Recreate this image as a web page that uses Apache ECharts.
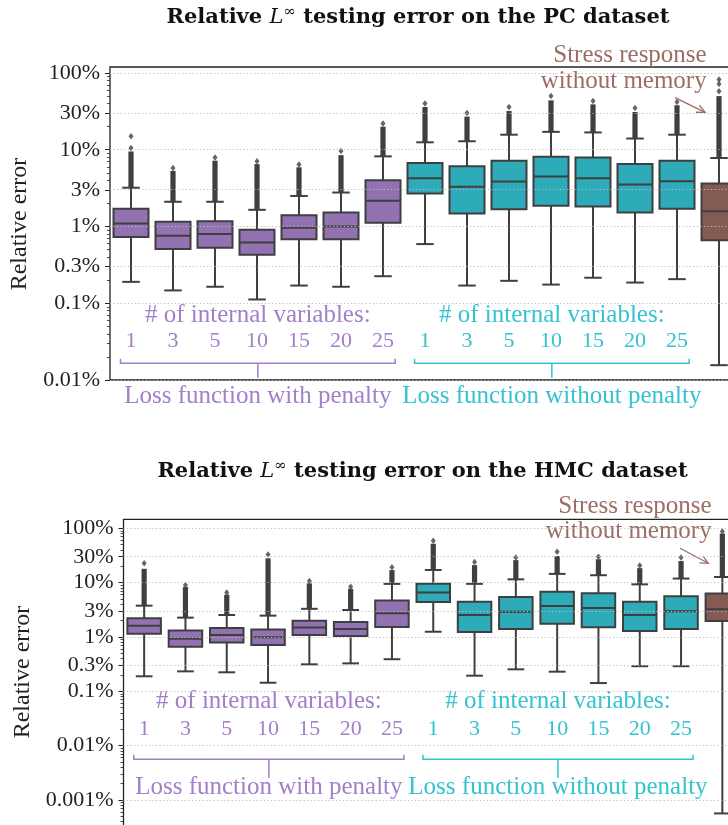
<!DOCTYPE html>
<html>
<head>
<meta charset="utf-8">
<script src="https://cdn.jsdelivr.net/npm/echarts@6/dist/echarts.min.js"></script>
<style>html,body{margin:0;padding:0;background:#fff}#c{width:728px;height:825px}</style>
</head>
<body>
<div id="c"></div>
<script>
// ---------------- DATA ----------------
const categories = ['1','3','5','10','15','20','25','1','3','5','10','15','20','25','no memory'];
const groupOf = ['penalty','penalty','penalty','penalty','penalty','penalty','penalty',
                 'plain','plain','plain','plain','plain','plain','plain','memoryless'];
const groupNames = { penalty: 'Loss function with penalty', plain: 'Loss function without penalty' };
const groupHeader = '# of internal variables:';
const memorylessNote = ['Stress response', 'without memory'];
const datasetNames = ['PC', 'HMC'];

// relative error in %: [lower whisker, Q1, median, Q3, upper whisker]
const pcStats = [
  [0.19, 0.73, 1.09, 1.70, 3.2],
  [0.147, 0.51, 0.76, 1.15, 2.1],
  [0.164, 0.53, 0.80, 1.17, 2.1],
  [0.112, 0.43, 0.62, 0.91, 1.65],
  [0.17, 0.68, 0.96, 1.40, 2.5],
  [0.164, 0.68, 1.00, 1.52, 2.77],
  [0.225, 1.12, 2.16, 4.0, 8.2],
  [0.59, 2.69, 4.26, 6.7, 12.5],
  [0.17, 1.48, 3.3, 6.1, 12.9],
  [0.196, 1.68, 3.86, 7.2, 15.7],
  [0.175, 1.86, 4.48, 8.1, 17.1],
  [0.215, 1.82, 4.26, 7.9, 16.8],
  [0.186, 1.52, 3.53, 6.5, 14.0],
  [0.206, 1.70, 3.89, 7.2, 15.7],
  [0.0156, 0.66, 1.58, 3.63, 7.8]
];
// top of the dense run of outliers above the upper whisker (%)
const pcOutlierRunTop = [9.5, 5.3, 7.2, 6.5, 5.9, 8.5, 20, 36, 27, 32, 44, 39, 31, 38, 50];
// isolated outliers (%)
const pcOutlierPoints = [[10.5, 15], [5.8], [7.9], [7.1], [6.4], [9.6], [22], [40], [30], [36], [50], [43], [35], [42], [58, 72, 82]];

const hmcStats = [
  [0.189, 1.15, 1.61, 2.21, 3.77],
  [0.233, 0.66, 0.93, 1.31, 2.27],
  [0.224, 0.79, 1.09, 1.47, 2.54],
  [0.144, 0.71, 0.99, 1.38, 2.47],
  [0.314, 1.09, 1.49, 2.00, 3.3],
  [0.327, 1.04, 1.40, 1.89, 3.14],
  [0.39, 1.53, 2.73, 4.67, 9.5],
  [1.25, 4.4, 6.6, 9.5, 17.1],
  [0.194, 1.24, 2.54, 4.47, 9.5],
  [0.254, 1.40, 2.92, 5.45, 11.5],
  [0.23, 1.76, 3.72, 6.8, 14.5],
  [0.142, 1.51, 3.42, 6.4, 13.7],
  [0.29, 1.29, 2.54, 4.47, 9.3],
  [0.29, 1.40, 2.97, 5.6, 11.9],
  [0.000566, 1.97, 3.24, 6.3, 12.7]
];
const hmcOutlierRunTop = [18, 8.3, 6.0, 28, 9.7, 7.7, 17, 52, 21, 26, 31, 27, 18.5, 25, 80];
const hmcOutlierPoints = [[22.8], [9.1], [6.6], [33], [10.7], [8.4], [19.2], [59], [24], [28.9], [37], [30], [20.6], [28.9], [87]];

const pcTicks = [0.01, 0.1, 0.3, 1, 3, 10, 30, 100];
const hmcTicks = [0.001, 0.01, 0.1, 0.3, 1, 3, 10, 30, 100];

// ---------------- STYLE / LAYOUT ----------------
const FONT = 'Liberation Serif';
const EDGE = '#3f3f3f';
const COLORS = {
  penalty:    { box: '#9372b2', text: '#a27fcb' },
  plain:      { box: '#2eabb8', text: '#35c2d1' },
  memoryless: { box: '#845b53', text: '#9c6d64' }
};
const PANELS = [
  { stats: pcStats, run: pcOutlierRunTop, pts: pcOutlierPoints, ticks: pcTicks, name: datasetNames[0],
    grid: { left: 110, top: 67, width: 630, height: 313 }, yMin: -2, yMax: 2.078, boxW: 35,
    titleX: 418, titleY: 18, ylabel: [20, 224], headerY: 315, bracketY: 363.3, tickDown: 14.4, lossY: 396, numMargin: 28,
    stress: { x: 706.7, y1: 55, y2: 81, a0: [675, 97.7], a1: [705, 112.3] } },
  { stats: hmcStats, run: hmcOutlierRunTop, pts: hmcOutlierPoints, ticks: hmcTicks, name: datasetNames[1],
    grid: { left: 123.5, top: 519.3, width: 619.5, height: 313.3 }, yMin: -3.6, yMax: 2.166, boxW: 33.5,
    titleX: 422.5, titleY: 471.7, ylabel: [23, 672], headerY: 701.7, bracketY: 759.3, tickDown: 18.7, lossY: 787.3, numMargin: 92,
    stress: { x: 711.7, y1: 506.7, y2: 531.7, a0: [680, 548.3], a1: [708.3, 563.3] } }
];

const lg = Math.log10;

function minorTicks(ticks, lo, hi) {
  const out = [];
  for (let n = -6; n <= 3; n++) {
    for (let k = 1; k <= 9; k++) {
      const v = k * Math.pow(10, n);
      const l = lg(v);
      if (l < lo - 1e-9 || l > hi + 1e-9) continue;
      if (ticks.some(t => Math.abs(lg(t) - l) < 1e-6)) continue;
      out.push(l);
    }
  }
  return out;
}

const chart = echarts.init(document.getElementById('c'), null, { renderer: 'canvas' });

const grids = [], xAxes = [], yAxes = [], series = [];

PANELS.forEach((P, k) => {
  grids.push(Object.assign({ show: true, borderColor: '#222', borderWidth: 1.3, backgroundColor: 'transparent',
    containLabel: false, outerBoundsMode: 'none' }, P.grid));
  xAxes.push({
    type: 'category', gridIndex: k, data: categories, boundaryGap: true,
    axisLine: { show: false }, axisTick: { show: false }, splitLine: { show: false },
    axisLabel: {
      show: true, inside: true, margin: P.numMargin, interval: 0,
      fontFamily: FONT, fontSize: 22,
      color: (val, idx) => COLORS[groupOf[idx]].text,
      formatter: (val, idx) => (groupOf[idx] === 'memoryless' ? '' : val)
    }
  });
  const majors = P.ticks.map(lg);
  yAxes.push({
    type: 'value', gridIndex: k, position: 'left', min: P.yMin, max: P.yMax,
    axisLine: { show: false }, splitLine: { show: false },
    axisTick: { show: true, length: 5, customValues: majors, lineStyle: { color: '#222', width: 1 } },
    axisLabel: {
      show: true, customValues: majors, margin: 10, fontFamily: FONT, fontSize: 22, color: '#222',
      formatter: (v) => {
        const t = P.ticks.find(t => Math.abs(lg(t) - v) < 1e-6);
        return t === undefined ? '' : String(t) + '%';
      }
    }
  });
  yAxes.push({
    type: 'value', gridIndex: k, position: 'left', min: P.yMin, max: P.yMax,
    axisLine: { show: false }, splitLine: { show: false },
    axisTick: { show: true, length: 3, customValues: minorTicks(P.ticks, P.yMin, P.yMax), lineStyle: { color: '#222', width: 0.8 } },
    axisLabel: { show: false }
  });

  const boxData = P.stats.map((s, i) => [i, lg(s[0]), lg(s[1]), lg(s[2]), lg(s[3]), lg(s[4]), lg(P.run[i])]);
  const boxW = P.boxW;
  series.push({
    type: 'custom', xAxisIndex: k, yAxisIndex: 2 * k, z: 2,
    encode: { x: 0, y: [1, 2, 3, 4, 5, 6] },
    data: boxData,
    renderItem: (params, api) => {
      const i = api.value(0);
      const ys = [1, 2, 3, 4, 5, 6].map(d => api.coord([i, api.value(d)])[1]);
      const cx = api.coord([i, api.value(3)])[0];
      const [yLow, yQ1, yMed, yQ3, yHigh, yRun] = ys;
      const fill = COLORS[groupOf[i]].box;
      const lw = 2;
      const cap = boxW / 4;
      return {
        type: 'group',
        children: [
          { type: 'rect', shape: { x: cx - 2.6, y: yRun, width: 5.2, height: Math.max(0, yHigh - yRun) }, style: { fill: EDGE } },
          { type: 'line', shape: { x1: cx, y1: yQ1, x2: cx, y2: yLow }, style: { stroke: EDGE, lineWidth: lw } },
          { type: 'line', shape: { x1: cx, y1: yQ3, x2: cx, y2: yHigh }, style: { stroke: EDGE, lineWidth: lw } },
          { type: 'line', shape: { x1: cx - cap, y1: yLow, x2: cx + cap, y2: yLow }, style: { stroke: EDGE, lineWidth: lw } },
          { type: 'line', shape: { x1: cx - cap, y1: yHigh, x2: cx + cap, y2: yHigh }, style: { stroke: EDGE, lineWidth: lw } },
          { type: 'rect', shape: { x: cx - boxW / 2, y: yQ3, width: boxW, height: yQ1 - yQ3 }, style: { fill: fill, stroke: EDGE, lineWidth: lw } },
          { type: 'line', shape: { x1: cx - boxW / 2, y1: yMed, x2: cx + boxW / 2, y2: yMed }, style: { stroke: EDGE, lineWidth: lw } }
        ]
      };
    }
  });

  const outData = [];
  P.pts.forEach((arr, i) => arr.forEach(v => outData.push([i, lg(v)])));
  series.push({
    type: 'scatter', xAxisIndex: k, yAxisIndex: 2 * k, z: 3,
    symbol: 'diamond', symbolSize: [5, 6.5],
    itemStyle: { color: EDGE },
    data: outData,
    markLine: {
      silent: true, symbol: ['none', 'none'], label: { show: false }, z: 5,
      lineStyle: { color: '#bdbdbd', type: [1.2, 2.4], width: 1 },
      data: P.ticks.map(t => ({ yAxis: lg(t) }))
    }
  });
});

chart.setOption({
  animation: false,
  grid: grids, xAxis: xAxes, yAxis: yAxes, series: series
});

// ---------------- ANNOTATIONS ----------------
const graphics = [];
PANELS.forEach((P, k) => {
  // title
  graphics.push({
    type: 'text', x: P.titleX, y: P.titleY,
    style: {
      text: '{b|Relative }{i|L}{s|∞}{b| testing error on the ' + P.name + ' dataset}',
      align: 'center', verticalAlign: 'middle',
      rich: {
        b: { fontFamily: 'DejaVu Serif', fontWeight: 'bold', fontSize: 21, fill: '#111', lineHeight: 26 },
        i: { fontFamily: 'DejaVu Serif', fontStyle: 'italic', fontSize: 21, fill: '#111', lineHeight: 26 },
        s: { fontFamily: 'DejaVu Serif', fontSize: 15, fill: '#111', lineHeight: 26, verticalAlign: 'top' }
      }
    }
  });
  // y axis name
  graphics.push({
    type: 'text', x: P.ylabel[0], y: P.ylabel[1], rotation: Math.PI / 2,
    style: { text: 'Relative error', fontFamily: FONT, fontSize: 24, fill: '#222', align: 'center', verticalAlign: 'middle' }
  });
  // group brackets and labels
  const px = (i) => chart.convertToPixel({ xAxisIndex: k }, i);
  const band = px(1) - px(0);
  ['penalty', 'plain'].forEach(g => {
    const idx = groupOf.map((v, i) => (v === g ? i : -1)).filter(i => i >= 0);
    const L = px(idx[0]) - 0.25 * band;
    const R = px(idx[idx.length - 1]) + 0.29 * band;
    const M = (L + R) / 2;
    const col = COLORS[g].text;
    graphics.push({
      type: 'text', x: M, y: P.headerY,
      style: { text: groupHeader, fontFamily: FONT, fontSize: 25, fill: col, align: 'center', verticalAlign: 'middle' }
    });
    graphics.push({
      type: 'polyline',
      shape: { points: [[L, P.bracketY - 4.5], [L, P.bracketY], [R, P.bracketY], [R, P.bracketY - 4.5]] },
      style: { stroke: col, lineWidth: 1.5, fill: null }
    });
    graphics.push({
      type: 'line', shape: { x1: M, y1: P.bracketY, x2: M, y2: P.bracketY + P.tickDown },
      style: { stroke: col, lineWidth: 1.5 }
    });
    graphics.push({
      type: 'text', x: M, y: P.lossY, z: 10,
      style: { text: groupNames[g], fontFamily: FONT, fontSize: 25, fill: col, align: 'center', verticalAlign: 'middle' }
    });
  });
  // memoryless annotation
  const S = P.stress, bc = COLORS.memoryless.text;
  graphics.push({ type: 'text', x: S.x, y: S.y1, style: { text: memorylessNote[0], fontFamily: FONT, fontSize: 25, fill: bc, align: 'right', verticalAlign: 'middle' } });
  graphics.push({ type: 'text', x: S.x, y: S.y2, style: { text: memorylessNote[1], fontFamily: FONT, fontSize: 25, fill: bc, align: 'right', verticalAlign: 'middle' } });
  const dx = S.a1[0] - S.a0[0], dy = S.a1[1] - S.a0[1];
  const ang = Math.atan2(dy, dx), hl = 9;
  const h1 = [S.a1[0] - hl * Math.cos(ang - 0.45), S.a1[1] - hl * Math.sin(ang - 0.45)];
  const h2 = [S.a1[0] - hl * Math.cos(ang + 0.45), S.a1[1] - hl * Math.sin(ang + 0.45)];
  graphics.push({ type: 'line', shape: { x1: S.a0[0], y1: S.a0[1], x2: S.a1[0], y2: S.a1[1] }, style: { stroke: bc, lineWidth: 1.3 } });
  graphics.push({ type: 'polyline', shape: { points: [h1, S.a1, h2] }, style: { stroke: bc, lineWidth: 1.3, fill: null } });
});

chart.setOption({ graphic: graphics });
</script>
</body>
</html>
